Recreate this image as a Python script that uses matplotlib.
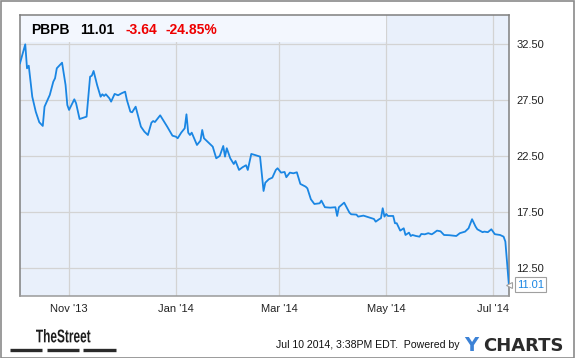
import matplotlib
matplotlib.use("Agg")
import matplotlib.pyplot as plt
import matplotlib.dates as mdates
import pandas as pd
from matplotlib.patches import Rectangle, PathPatch
from matplotlib.lines import Line2D
from matplotlib.textpath import TextPath
from matplotlib.font_manager import FontProperties
from matplotlib.transforms import blended_transform_factory, Affine2D

# ---- data ----
start_date = "2013-10-04"
day_offsets = [0, 3, 4, 5, 7, 9, 11, 13, 14, 17, 19, 20, 21, 24, 26, 27, 28, 31, 32, 34,
               38, 40, 41, 42, 44, 46, 47, 48, 49, 51, 52, 54, 56, 58, 60, 61, 63, 64, 66, 69,
               71, 73, 75, 76, 77, 80, 83, 84, 87, 89, 90, 92, 94, 95, 96, 97, 98, 101, 103, 104,
               105, 108, 110, 112, 114, 116, 117, 118, 120, 122, 123, 125, 127, 129, 130, 132, 134, 137, 139, 140,
               142, 144, 146, 147, 149, 151, 152, 154, 156, 158, 160, 163, 164, 166, 168, 171, 172, 174, 177, 180,
               181, 182, 185, 188, 189, 192, 193, 196, 199, 202, 203, 205, 206, 207, 208, 209, 210, 213, 214, 215,
               217, 219, 220, 222, 223, 224, 226, 228, 229, 231, 233, 235, 236, 238, 240, 242, 245, 249, 251, 254,
               256, 258, 260, 261, 264, 265, 267, 269, 271, 274, 276, 277, 279]
prices = [30.78, 32.47, 30.33, 30.56, 27.79, 26.45, 25.51, 25.18, 26.90, 27.95, 29.13, 29.44, 30.33, 30.83, 28.84, 27.05, 26.61, 27.56, 27.21, 25.80,
          26.01, 29.58, 29.67, 30.09, 28.84, 27.79, 28.01, 27.86, 28.01, 27.65, 27.35, 28.04, 27.92, 28.10, 28.24, 27.50, 26.45, 26.40, 26.90, 25.12,
          24.67, 24.37, 25.47, 25.62, 25.53, 26.13, 25.36, 25.12, 24.31, 24.22, 24.08, 24.58, 24.97, 26.22, 24.58, 24.37, 24.58, 23.48, 23.87, 24.82,
          24.08, 23.63, 23.33, 22.29, 22.50, 23.39, 22.44, 23.19, 22.29, 21.78, 22.05, 21.25, 21.49, 21.67, 21.25, 22.68, 22.59, 22.44, 19.37, 20.11,
          20.42, 20.56, 21.25, 21.40, 21.01, 21.07, 20.60, 21.01, 20.95, 21.04, 20.00, 19.76, 19.61, 18.63, 18.21, 18.27, 18.51, 17.92, 17.88, 17.92,
          17.14, 17.92, 18.33, 17.44, 17.29, 17.26, 17.08, 17.17, 17.02, 16.87, 16.63, 16.85, 16.94, 17.83, 17.08, 17.32, 17.14, 17.14, 16.49, 16.49,
          15.83, 16.04, 15.44, 15.65, 15.35, 15.44, 15.35, 15.29, 15.53, 15.50, 15.60, 15.50, 15.60, 15.83, 15.77, 15.44, 15.42, 15.35, 15.60, 15.74,
          16.04, 16.85, 16.19, 15.95, 15.69, 15.74, 15.69, 15.95, 15.51, 15.44, 15.29, 14.85, 11.01]
y_ticks = [12.5, 17.5, 22.5, 27.5, 32.5]
y_tick_labels = ["12.50", "17.50", "22.50", "27.50", "32.50"]
x_tick_dates = ["2013-11-01", "2014-01-01", "2014-03-01", "2014-05-01", "2014-07-01"]
x_tick_labels = ["Nov '13", "Jan '14", "Mar '14", "May '14", "Jul '14"]
ticker = "PBPB"
last_price = "11.01"
change = "-3.64"
change_pct = "-24.85%"
footer = "Jul 10 2014, 3:38PM EDT.  Powered by"
brand_left = "TheStreet"

dates = pd.Timestamp(start_date) + pd.to_timedelta(day_offsets, unit="D")

W, H = 575, 358
fig = plt.figure(figsize=(W / 100, H / 100), dpi=100)
fig.patch.set_facecolor("white")
FONT = ["Liberation Sans", "DejaVu Sans"]
pix = Affine2D().scale(1 / W, 1 / H) + fig.transFigure  # figure pixel coords (origin bottom-left)

def px(x, y):
    return (x / W, 1 - y / H)

ax = fig.add_axes([20 / W, 1 - 296 / H, 489.3 / W, 281 / H])
ax.set_facecolor("#e9f0fb")
ax.plot(dates, prices, color="#1a86e3", lw=1.3, zorder=3, solid_joinstyle="round")

ax.set_xlim(dates[0], dates[-1] + pd.Timedelta(hours=6))
ax.set_ylim(9.99, 35.09)

# header band
x0 = mdates.date2num(dates[0])
x1 = mdates.date2num(pd.Timestamp("2014-05-01"))
ax.add_patch(Rectangle((x0, 32.68), x1 - x0, 2.5, facecolor="#f3f7fe",
                       edgecolor="none", zorder=1))

ax.set_yticks(y_ticks)
ax.set_yticklabels(y_tick_labels)
ax.set_xticks(pd.to_datetime(x_tick_dates))
ax.set_xticklabels(x_tick_labels)
ax.yaxis.tick_right()
ax.tick_params(axis="both", length=0, labelsize=8, colors="#222222")
ax.tick_params(axis="y", pad=5)
ax.tick_params(axis="x", pad=6)
for lab in ax.get_xticklabels() + ax.get_yticklabels():
    lab.set_family(FONT)
ax.grid(True, color="#d3d3d3", lw=0.9, zorder=2)
ax.set_axisbelow(True)
for s in ax.spines.values():
    s.set_color("#7f7f7f")
    s.set_linewidth(1.1)
ax.spines["bottom"].set_color("#9a9a9a")

# title pieces
ty = 33.5
fig.text(*px(31, ty), ticker, fontsize=10, fontweight="bold", color="black", family=FONT)
fig.text(*px(80, ty), last_price, fontsize=10, fontweight="bold", color="black", family=FONT)
fig.text(*px(125, ty), change, fontsize=10, fontweight="bold", color="#ee0000", family=FONT)
fig.text(*px(166, ty), change_pct, fontsize=10, fontweight="bold", color="#ee0000", family=FONT)

# last value flag
tr = blended_transform_factory(fig.transFigure, ax.transData)
ax.text(517 / W, prices[-1], last_price, transform=tr, fontsize=8, color="#1a86e3",
        va="center", ha="left", family=FONT, clip_on=False,
        bbox=dict(boxstyle="square,pad=0.2", facecolor="white", edgecolor="#a0a0a0", lw=0.8))
ax.plot([1.0], [prices[-1]], transform=blended_transform_factory(ax.transAxes, ax.transData),
        marker="<", ms=5, mfc="white", mec="#a0a0a0", mew=0.8, clip_on=False, zorder=5)

# condensed "TheStreet" wordmark
tp = TextPath((0, 0), brand_left, size=1, prop=FontProperties(family="Liberation Sans", weight="bold"))
ext = tp.get_extents()
sx = 54.5 / ext.width
sy = 13.5 / ext.height
t_word = Affine2D().translate(-ext.x0, -ext.y0).scale(sx, sy).translate(36, H - 342.5) + pix
fig.add_artist(PathPatch(tp, transform=t_word, facecolor="#1e1e1e", edgecolor="none"))
for a, b in [(10, 42), (47, 79), (83, 116)]:
    fig.add_artist(Line2D([a / W, b / W], [1 - 349.5 / H] * 2, color="#2a2a2a", lw=2.4,
                          solid_capstyle="butt"))

fig.text(*px(276, 348), footer, fontsize=7.6, color="#111111", family=FONT)
fig.text(*px(464, 351), "Y", fontsize=14, fontweight="bold", color="#3c82d6", family=["DejaVu Sans"])
fig.text(*px(483, 351), "CHARTS", fontsize=13, fontweight="bold", color="#2b2b2b", family=["DejaVu Sans"])

# outer border
fig.add_artist(Rectangle((0.5 / W, 0.5 / H), 1 - 1.5 / W, 1 - 1.5 / H, transform=fig.transFigure,
                         fill=False, edgecolor="#8a8a8a", lw=1.2))

fig.savefig("out.png", dpi=100, facecolor="white")
